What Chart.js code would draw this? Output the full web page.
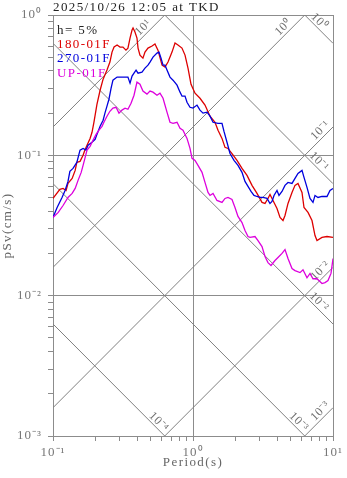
<!DOCTYPE html>
<html>
<head>
<meta charset="utf-8">
<script src="https://cdn.jsdelivr.net/npm/chart.js@4.4.1/dist/chart.umd.min.js"></script>
<style>
  html, body { margin: 0; padding: 0; background: #fff; }
</style>
</head>
<body>
<canvas id="spec" width="347" height="478"></canvas>
<script>
// pSv spectra (h = 5%), period in s, pSv in cm/s
const period180 = [0.100,0.112,0.118,0.124,0.128,0.137,0.144,0.148,0.156,0.164,
  0.169,0.175,0.184,0.190,0.196,0.206,0.217,0.228,0.243,0.255,
  0.264,0.273,0.287,0.301,0.316,0.332,0.343,0.355,0.367,0.373,
  0.385,0.398,0.405,0.418,0.439,0.454,0.477,0.510,0.535,0.562,
  0.601,0.631,0.663,0.708,0.744,0.781,0.834,0.877,0.921,0.968,
  1.034,1.122,1.218,1.323,1.436,1.509,1.611,1.693,1.778,1.899,
  2.062,2.239,2.431,2.639,2.865,3.111,3.268,3.433,3.548,3.728,
  3.981,4.183,4.394,4.541,4.771,5.095,5.353,5.623,6.006,6.207,
  6.629,7.079,7.438,7.686,8.345,9.060,10.00];
const sv180 = [0.0493,0.0572,0.0581,0.0562,0.0631,0.0685,0.0781,0.0891,0.0906,0.100,
  0.109,0.118,0.132,0.146,0.172,0.231,0.291,0.349,0.405,0.462,
  0.544,0.591,0.611,0.591,0.591,0.562,0.581,0.685,0.781,0.807,
  0.756,0.685,0.581,0.518,0.493,0.544,0.581,0.601,0.621,0.562,
  0.439,0.425,0.462,0.544,0.631,0.611,0.581,0.518,0.418,0.321,
  0.277,0.255,0.228,0.190,0.172,0.151,0.132,0.114,0.112,0.103,
  0.0921,0.0807,0.0720,0.0611,0.0535,0.0462,0.0454,0.0493,0.0527,0.0477,
  0.0418,0.0361,0.0343,0.0373,0.0454,0.0544,0.0611,0.0631,0.0544,0.0425,
  0.0392,0.0343,0.0268,0.0247,0.0260,0.0264,0.0260];

const period270 = [0.100,0.107,0.116,0.122,0.128,0.132,0.139,0.148,0.156,0.164,
  0.172,0.178,0.190,0.200,0.206,0.217,0.228,0.235,0.243,0.251,
  0.260,0.268,0.287,0.301,0.322,0.343,0.355,0.367,0.379,0.392,
  0.405,0.432,0.454,0.477,0.493,0.518,0.553,0.572,0.591,0.611,
  0.631,0.652,0.685,0.720,0.769,0.808,0.835,0.877,0.906,0.952,
  1.000,1.068,1.122,1.179,1.259,1.323,1.390,1.509,1.611,1.665,
  1.749,1.838,1.963,2.096,2.239,2.352,2.471,2.596,2.727,2.865,
  3.010,3.162,3.377,3.548,3.667,3.790,3.981,4.114,4.322,4.541,
  4.771,5.095,5.353,5.623,6.006,6.207,6.520,6.851,7.197,7.438,
  7.814,8.345,9.060,9.518,10.00];
const sv270 = [0.0361,0.0425,0.0501,0.0562,0.0652,0.0769,0.0807,0.0891,0.109,0.112,
  0.109,0.118,0.124,0.130,0.141,0.161,0.178,0.200,0.224,0.251,
  0.301,0.343,0.361,0.361,0.361,0.361,0.327,0.367,0.385,0.405,
  0.385,0.392,0.418,0.439,0.462,0.501,0.535,0.544,0.493,0.439,
  0.439,0.405,0.361,0.343,0.316,0.282,0.264,0.264,0.239,0.220,
  0.217,0.228,0.210,0.200,0.203,0.190,0.172,0.169,0.169,0.148,
  0.124,0.103,0.0921,0.0848,0.0756,0.0652,0.0601,0.0553,0.0518,0.0509,
  0.0501,0.0501,0.0493,0.0454,0.0469,0.0518,0.0562,0.0518,0.0553,0.0611,
  0.0641,0.0631,0.0685,0.0744,0.0781,0.0696,0.0591,0.0493,0.0462,0.0518,
  0.0501,0.0509,0.0509,0.0562,0.0581];

const periodUP = [0.100,0.109,0.118,0.128,0.137,0.144,0.151,0.159,0.164,0.169,
  0.175,0.184,0.193,0.203,0.213,0.224,0.231,0.243,0.255,0.268,
  0.282,0.296,0.311,0.327,0.343,0.361,0.379,0.398,0.418,0.439,
  0.469,0.493,0.518,0.553,0.581,0.611,0.652,0.685,0.720,0.769,
  0.808,0.848,0.906,0.952,0.984,1.034,1.086,1.160,1.218,1.280,
  1.323,1.390,1.484,1.611,1.693,1.778,1.899,1.995,2.096,2.239,
  2.352,2.471,2.554,2.773,2.913,3.111,3.268,3.433,3.607,3.852,
  4.047,4.322,4.541,4.771,5.095,5.353,5.812,6.105,6.520,6.851,
  7.197,7.686,8.345,8.768,9.211,9.676,10.00];
const svUP = [0.0361,0.0392,0.0439,0.0501,0.0535,0.0581,0.0663,0.0756,0.0848,0.0952,
  0.109,0.116,0.128,0.141,0.151,0.161,0.172,0.190,0.206,0.217,
  0.220,0.200,0.210,0.217,0.213,0.235,0.268,0.332,0.321,0.287,
  0.273,0.287,0.282,0.268,0.277,0.255,0.203,0.172,0.169,0.172,
  0.156,0.151,0.132,0.112,0.0952,0.0921,0.0848,0.0756,0.0641,0.0544,
  0.0518,0.0535,0.0477,0.0462,0.0493,0.0501,0.0485,0.0425,0.0367,0.0332,
  0.0291,0.0264,0.0260,0.0264,0.0247,0.0224,0.0190,0.0172,0.0164,0.0178,
  0.0187,0.0200,0.0213,0.0184,0.0156,0.0151,0.0146,0.0153,0.0134,0.0144,
  0.0132,0.0132,0.0122,0.0124,0.0128,0.0144,0.0184];

// tripartite guide lines: displacement (cm) and acceleration (cm/s^2)
const dispLevels = [1e-4, 1e-3, 1e-2, 1e-1, 1];
const accLevels = [1e-3, 1e-2, 1e-1, 1, 10];

// decade ticks on both axes
const xDecades = [0.1, 1, 10];
const yDecades = [0.001, 0.01, 0.1, 1];

const SERIF = '"Liberation Serif", "Times New Roman", serif';
const TWO_PI = 2 * Math.PI;
const SUP = { '-': '\u207B', '0': '\u2070', '1': '\u00B9', '2': '\u00B2', '3': '\u00B3', '4': '\u2074' };

function isPow10(v) {
  const l = Math.log10(v);
  return Math.abs(l - Math.round(l)) < 1e-6;
}
function pow10Label(v) {
  const e = String(Math.round(Math.log10(v)));
  return '10' + e.split('').map(c => SUP[c]).join('');
}
function withMinors(decades) {
  const out = [];
  decades.forEach((d, i) => {
    out.push(d);
    if (i < decades.length - 1) for (let m = 2; m <= 9; m++) out.push(m * d);
  });
  return out;
}
function pts(xs, ys) {
  return xs.map((x, i) => ({ x: x, y: ys[i] }));
}

const xMin = xDecades[0], xMax = xDecades[xDecades.length - 1];
const yMin = yDecades[0], yMax = yDecades[yDecades.length - 1];

const guideSets = [];
dispLevels.forEach(d => guideSets.push({
  data: [{ x: xMin, y: TWO_PI * d / xMin }, { x: xMax, y: TWO_PI * d / xMax }],
  borderColor: '#808080', borderWidth: 1, order: 10
}));
accLevels.forEach(a => guideSets.push({
  data: [{ x: xMin, y: a * xMin / TWO_PI }, { x: xMax, y: a * xMax / TWO_PI }],
  borderColor: '#808080', borderWidth: 1, order: 10
}));

// level numbers written along the guide lines, near where they leave the plot
const guideLabels = {
  id: 'guideLabels',
  beforeDatasetsDraw(chart) {
    const { ctx, scales: { x, y } } = chart;
    ctx.save();
    ctx.font = '12px ' + SERIF;
    ctx.letterSpacing = '0.6px';
    ctx.fillStyle = '#707070';
    ctx.textAlign = 'center';
    ctx.textBaseline = 'middle';
    const put = (px, py, rot, txt) => {
      ctx.save();
      ctx.translate(px, py);
      ctx.rotate(rot);
      ctx.fillText(txt, 0, 0);
      ctx.restore();
    };
    dispLevels.forEach(d => {
      const right = TWO_PI * d / xMax >= yMin;
      const tEnd = right ? xMax : TWO_PI * d / yMin;
      const ex = x.getPixelForValue(tEnd), ey = y.getPixelForValue(TWO_PI * d / tEnd);
      const a = right ? 18 : 10, b = 4;
      put(ex - a + b, ey - a - b, Math.PI / 4, pow10Label(d));
    });
    accLevels.forEach(acc => {
      const right = acc * xMax / TWO_PI <= yMax;
      const tEnd = right ? xMax : TWO_PI * yMax / acc;
      const ex = x.getPixelForValue(tEnd), ey = y.getPixelForValue(acc * tEnd / TWO_PI);
      const a = right ? 8 : 17, b = 4.5;
      put(ex - a - b, ey + a - b, -Math.PI / 4, pow10Label(acc));
    });
    ctx.restore();
  }
};

// title, legend text and axis names
const annotations = {
  id: 'annotations',
  beforeDraw(chart) {
    chart.ctx.letterSpacing = '1px';
  },
  afterDatasetsDraw(chart) {
    const ctx = chart.ctx;
    const area = chart.chartArea;
    ctx.save();
    ctx.font = '13px ' + SERIF;
    ctx.letterSpacing = '1.4px';
    ctx.textBaseline = 'alphabetic';
    ctx.textAlign = 'left';
    ctx.fillStyle = '#222';
    ctx.fillText('2025/10/26 12:05 at TKD', area.left, 10.5);

    const legend = [['h= 5%', '#222'], ['180-01F', '#dd0000'], ['270-01F', '#0000dd'], ['UP-01F', '#dd00dd']];
    legend.forEach((l, i) => {
      ctx.fillStyle = l[1];
      ctx.fillText(l[0], area.left + 4, 33.8 + i * 14.3);
    });

    ctx.fillStyle = '#666';
    ctx.textAlign = 'center';
    ctx.fillText('Period(s)', (area.left + area.right) / 2, 466);
    ctx.translate(10.7, (area.top + area.bottom) / 2);
    ctx.rotate(-Math.PI / 2);
    ctx.fillText('pSv(cm/s)', 0, 0);
    ctx.restore();
  }
};

const gridColor = c => (c.tick && isPow10(c.tick.value)) ? '#8c8c8c' : 'rgba(0,0,0,0)';
const tickFont = { family: SERIF, size: 13 };

new Chart(document.getElementById('spec'), {
  type: 'scatter',
  data: {
    datasets: [
      { label: '180-01F', data: pts(period180, sv180), borderColor: '#dd0000', borderWidth: 1.3, order: 3 },
      { label: '270-01F', data: pts(period270, sv270), borderColor: '#0000dd', borderWidth: 1.3, order: 2 },
      { label: 'UP-01F', data: pts(periodUP, svUP), borderColor: '#dd00dd', borderWidth: 1.3, order: 1 }
    ].concat(guideSets)
  },
  options: {
    responsive: false,
    animation: false,
    showLine: true,
    layout: { padding: { left: 0, right: 14, top: 15, bottom: 0 } },
    elements: { point: { radius: 0, hoverRadius: 0 }, line: { tension: 0 } },
    plugins: { legend: { display: false }, tooltip: { enabled: false } },
    scales: {
      x: {
        type: 'logarithmic',
        min: xMin, max: xMax,
        afterBuildTicks: s => { s.ticks = withMinors(xDecades).map(v => ({ value: v })); },
        afterFit: s => { s.height = 42; s.paddingLeft = 0; s.paddingRight = 0; },
        grid: { color: gridColor, tickColor: '#8c8c8c', tickLength: 5 },
        border: { color: '#8c8c8c' },
        ticks: {
          autoSkip: false, maxRotation: 0, padding: 4, color: '#777', font: tickFont,
          callback: v => isPow10(v) ? pow10Label(v) : ''
        }
      },
      y: {
        type: 'logarithmic',
        min: yMin, max: yMax,
        afterBuildTicks: s => { s.ticks = withMinors(yDecades).map(v => ({ value: v })); },
        afterFit: s => { s.width = 53; s.paddingTop = 0; s.paddingBottom = 0; },
        grid: { color: gridColor, tickColor: '#8c8c8c', tickLength: 5 },
        border: { color: '#8c8c8c' },
        ticks: {
          autoSkip: false, padding: 6, color: '#777', font: tickFont,
          callback: v => isPow10(v) ? pow10Label(v) : ''
        }
      }
    }
  },
  plugins: [guideLabels, annotations]
});
</script>
</body>
</html>
